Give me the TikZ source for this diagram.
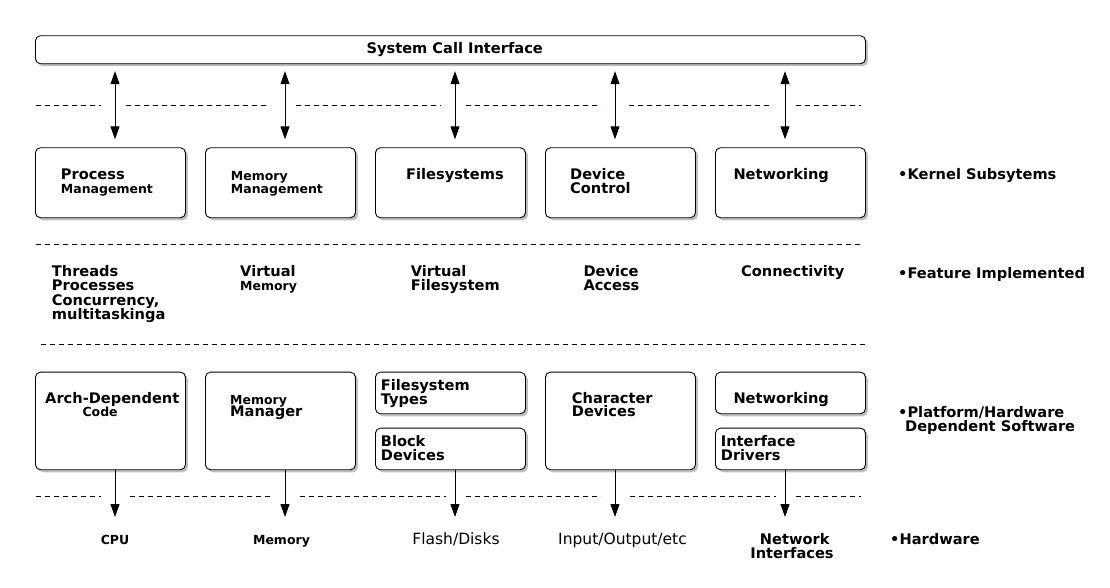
\documentclass[tikz,border=0pt]{standalone}
\usepackage{fontspec}
\setmainfont{DejaVu Sans}
\usetikzlibrary{arrows.meta,shadows}
\newcommand\bigt{\fontsize{14.6}{16}\selectfont\bfseries}
\newcommand\smt{\fontsize{12.5}{14}\selectfont\bfseries}
\newcommand\rgt{\fontsize{15.5}{17}\selectfont}
\tikzset{
  box/.style={draw, rounded corners=5pt, line width=0.9pt, fill=white,
    anchor=north west, inner sep=0pt, minimum width=150pt,
    drop shadow={shadow xshift=2.5pt, shadow yshift=-2.5pt, fill=black!45, opacity=0.55}},
  lbl/.style={anchor=base west, inner sep=0pt},
  bt/.style={lbl, font=\bigt},
  st/.style={lbl, font=\smt},
  sep/.style={dash pattern=on 5pt off 4pt, line width=0.8pt},
  tip/.style={Triangle[length=13pt,width=9pt]},
  dbl/.style={{Triangle[length=13pt,width=9pt]}-{Triangle[length=13pt,width=9pt]}, line width=1pt},
  sgl/.style={-{Triangle[length=13pt,width=9pt]}, line width=1pt}
}
\begin{document}
\begin{tikzpicture}[x=1pt, y=-1pt]
    \useasboundingbox (0,0) rectangle (1110,588);

    % system call interface
    \node[box, minimum width=830pt, minimum height=28pt] (sci) at (35,35.3) {};
    \node[bt, anchor=base] (scit) at (454.7,53.3) {System Call Interface};

    % columns of the arrows
    \coordinate (c1) at (115,0);
    \coordinate (c2) at (285,0);
    \coordinate (c3) at (455,0);
    \coordinate (c4) at (615,0);
    \coordinate (c5) at (785,0);

    % kernel subsystems
    \node[box, minimum height=70pt] (pm) at (35,147.3) {};
    \node[box, minimum height=70pt] (mm) at (205,147.3) {};
    \node[box, minimum height=70pt] (fs) at (375,147.3) {};
    \node[box, minimum height=70pt] (dc) at (545,147.3) {};
    \node[box, minimum height=70pt] (nw) at (715,147.3) {};

    \node[bt] (pma) at (60.7,179.3) {Process};
    \node[st] (pmb) at (60.7,193.3) {Management};
    \node[st] (mma) at (230.7,180.7) {Memory};
    \node[st] (mmb) at (230.7,193.3) {Management};
    \node[bt] (fsa) at (406,180) {Filesystems};
    \node[bt] (dca) at (570,180) {Device};
    \node[bt] (dcb) at (570,193.3) {Control};
    \node[bt] (nwa) at (733.3,180) {Networking};
    \node[bt] (ks) at (898,179.3) {•Kernel Subsytems};

    \foreach \c/\b in {c1/pm, c2/mm, c3/fs, c4/dc, c5/nw}
        \draw[dbl, shorten <=7pt, shorten >=8pt] (sci.south -| \c) -- (\b.north -| \c);

    % separators
    \foreach \a/\b in {36/101, 126/270, 296/441, 466/601, 629/771, 796/861}
        \draw[sep] (\a,105) -- (\b,105);
    \draw[sep] (36,244) -- (861,244);
    \draw[sep] (41,344) -- (866,344);
    \foreach \a/\b in {36/101, 130/270, 300/446, 466/601, 630/776, 796/861}
        \draw[sep] (\a,496.5) -- (\b,496.5);

    % features implemented
    \node[bt] (fa1) at (51.7,276.7) {Threads};
    \node[bt] (fa2) at (51.7,290.7) {Processes};
    \node[bt] (fa3) at (51.7,305) {Concurrency,};
    \node[bt] (fa4) at (51.7,319.3) {multitaskinga};
    \node[bt] (fb1) at (240,276.7) {Virtual};
    \node[st] (fb2) at (240,290.7) {Memory};
    \node[bt] (fc1) at (410.7,276.7) {Virtual};
    \node[bt] (fc2) at (410.7,290) {Filesystem};
    \node[bt] (fd1) at (583.3,276.7) {Device};
    \node[bt] (fd2) at (583.3,290) {Access};
    \node[bt] (fe1) at (741,276.7) {Connectivity};
    \node[bt] (fi) at (898,278.3) {•Feature Implemented};

    % platform dependent software
    \node[box, minimum height=97.6pt] (ad) at (35,371.7) {};
    \node[box, minimum height=97.6pt] (mg) at (205,371.7) {};
    \node[box, minimum height=41.6pt] (ft) at (375,371.7) {};
    \node[box, minimum height=41.6pt] (bd) at (375,427.7) {};
    \node[box, minimum height=97.6pt] (cd) at (545,371.7) {};
    \node[box, minimum height=41.6pt] (nt) at (715,371.7) {};
    \node[box, minimum height=41.6pt] (id) at (715,427.7) {};

    \node[bt] (ada) at (45,403.3) {Arch-Dependent};
    \node[st] (adb) at (82.3,416.7) {Code};
    \node[st] (mga) at (230,404.3) {Memory};
    \node[bt] (mgb) at (230,416.7) {Manager};
    \node[bt] (fta) at (380.7,390) {Filesystem};
    \node[bt] (ftb) at (380.7,404) {Types};
    \node[bt] (bda) at (380.7,446) {Block};
    \node[bt] (bdb) at (380.7,460) {Devices};
    \node[bt] (cda) at (571.7,403.3) {Character};
    \node[bt] (cdb) at (571.7,416.7) {Devices};
    \node[bt] (nta) at (733.3,403.3) {Networking};
    \node[bt] (ida) at (720.7,446) {Interface};
    \node[bt] (idb) at (720.7,460) {Drivers};
    \node[bt] (pha) at (898,417.3) {•Platform/Hardware};
    \node[bt] (phb) at (905,431) {Dependent Software};

    % hardware
    \coordinate (h1) at (115,517);
    \coordinate (h2) at (285,517);
    \coordinate (h3) at (455,517);
    \coordinate (h4) at (615,517);
    \coordinate (h5) at (785,517);
    \foreach \c/\b/\h in {c1/ad/h1, c2/mg/h2, c3/bd/h3, c4/cd/h4, c5/id/h5}
        \draw[sgl] (\b.south -| \c) -- (\h);

    \node[st, anchor=base] (cpu) at (115,544) {CPU};
    \node[st, anchor=base] (mem) at (281.5,544) {Memory};
    \node[lbl, anchor=base, font=\rgt] (fd) at (456,544) {Flash/Disks};
    \node[lbl, anchor=base, font=\rgt] (io) at (622.5,544) {Input/Output/etc};
    \node[bt, anchor=base] (ni1) at (794.7,544.3) {Network};
    \node[bt, anchor=base] (ni2) at (792,558) {Interfaces};
    \node[bt] (hw) at (890,544.3) {•Hardware};
\end{tikzpicture}
\end{document}
